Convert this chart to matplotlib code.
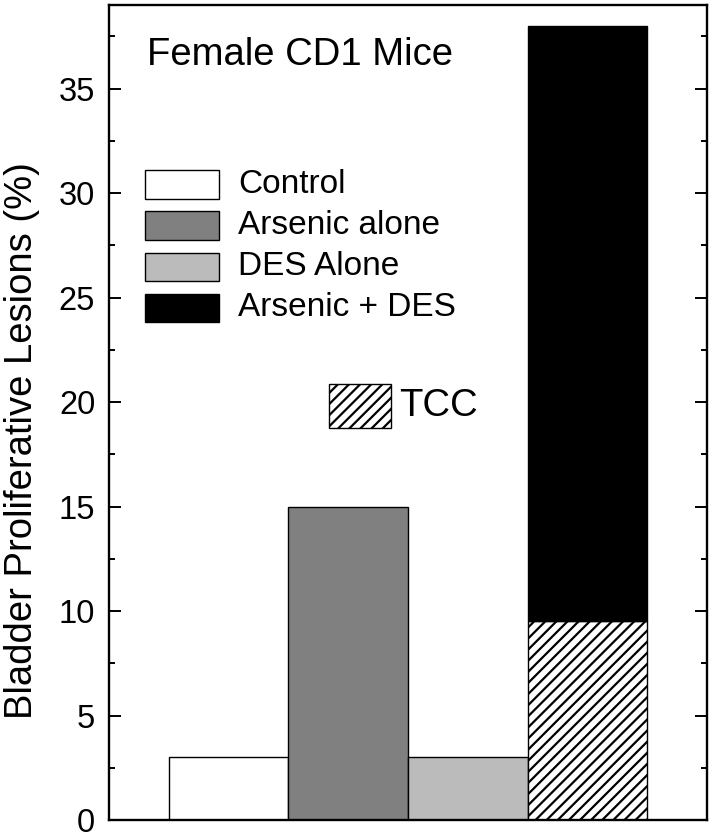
import matplotlib
matplotlib.use("Agg")
import matplotlib.pyplot as plt
from matplotlib.patches import Rectangle
from matplotlib.ticker import MultipleLocator

plt.rcParams['font.family'] = ['Liberation Sans', 'DejaVu Sans']
plt.rcParams['hatch.linewidth'] = 1.6

groups = ["Control", "Arsenic alone", "DES Alone", "Arsenic + DES"]
positions = [1, 2, 3, 4]
values = [3.0, 15.0, 3.0, 38.0]
tcc_values = [0.0, 0.0, 0.0, 9.5]
colors = ["#ffffff", "#808080", "#bbbbbb", "#000000"]
title = "Female CD1 Mice"
ylabel = "Bladder Proliferative Lesions (%)"

fig = plt.figure(figsize=(7.14, 8.33), dpi=100)
ax = fig.add_axes([0.1527, 0.0156, 0.8375, 0.9784])

for p, v, t, c in zip(positions, values, tcc_values, colors):
    if t > 0:
        ax.bar(p, t, width=1.0, color="white", edgecolor="black", hatch="///", linewidth=1.0)
        ax.bar(p, v - t, bottom=t, width=1.0, color=c, edgecolor="black", linewidth=1.0)
    else:
        ax.bar(p, v, width=1.0, color=c, edgecolor="black", linewidth=1.0)

ax.set_xlim(0, 5)
ax.set_ylim(0, 39)
ax.set_xticks([])
ax.yaxis.set_major_locator(MultipleLocator(5))
ax.yaxis.set_minor_locator(MultipleLocator(2.5))
ax.tick_params(axis='y', which='both', direction='in', left=True, right=True, labelsize=23.5, pad=10)
ax.tick_params(axis='y', which='major', length=8.5, width=1.4)
ax.tick_params(axis='y', which='minor', length=4.5, width=1.4)
for s in ax.spines.values():
    s.set_linewidth(1.7)
ax.set_ylabel(ylabel, fontsize=27.5, ha='center', va='center')
ax.yaxis.set_label_coords(-0.145, 0.466)

ax.text(0.0635, 0.9387, title, transform=ax.transAxes, fontsize=27.5, va='center', ha='left')

box_x, box_w, box_h = 0.0602, 0.1237, 0.0350
box_bottoms = [0.762, 0.7117, 0.6613, 0.611]
for g, c, b in zip(groups, colors, box_bottoms):
    ax.add_patch(Rectangle((box_x, b), box_w, box_h, transform=ax.transAxes,
                           facecolor=c, edgecolor="black", linewidth=1.0))
    ax.text(0.2157, b + box_h / 2, g, transform=ax.transAxes, fontsize=24,
            va='center', ha='left')

ax.add_patch(Rectangle((0.368, 0.481), 0.1037, 0.054, transform=ax.transAxes,
                       facecolor="white", edgecolor="black", hatch="///", linewidth=1.0))
ax.text(0.485, 0.481 + 0.027, "TCC", transform=ax.transAxes, fontsize=27.5, va='center', ha='left')

fig.savefig("out.png", dpi=100)
